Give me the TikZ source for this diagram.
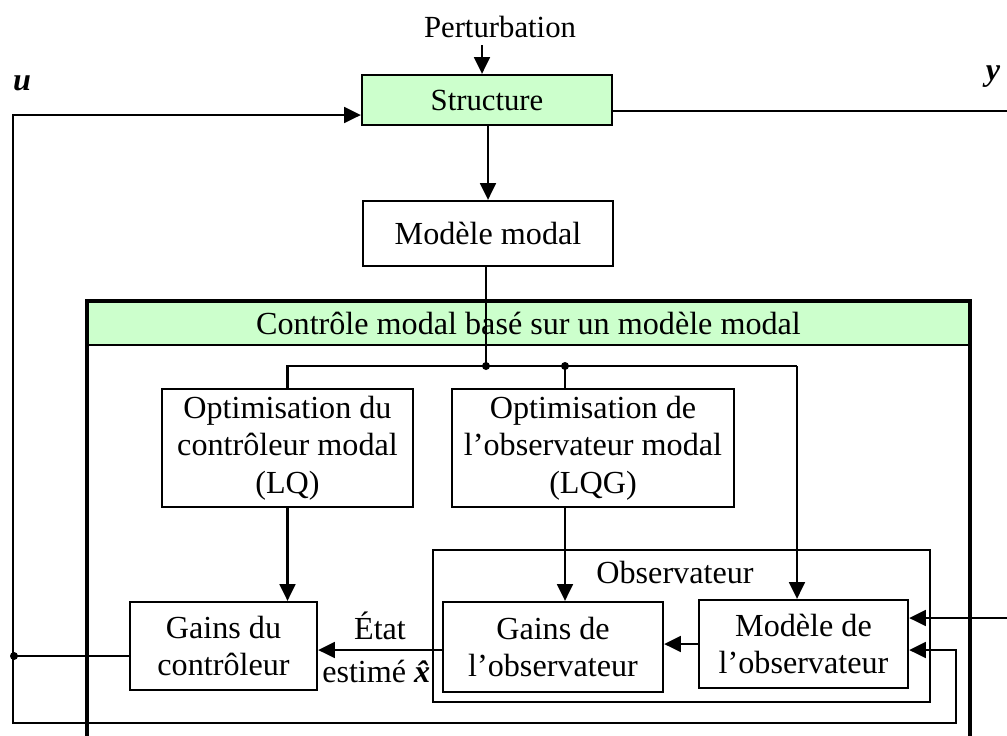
\documentclass[tikz,border=0pt]{standalone}
\usepackage{fontspec}
\setmainfont{Liberation Serif}
\usetikzlibrary{arrows.meta,calc}
\definecolor{vertclair}{HTML}{CCFFCC}
\begin{document}
\begin{tikzpicture}[x=0.02cm,y=-0.02cm,line width=1.3pt,
		every node/.style={font=\fontsize{18.3}{21.3}\selectfont,inner sep=0pt},
		bloc/.style={draw,line width=1.3pt,align=center},
		fl/.style={-{Triangle[length=9.5pt,width=9pt]}}]
		\useasboundingbox (0,0) rectangle (1007,735);
		% blocs
		\node[font=\fontsize{17.5}{21}\selectfont] (pert) at (500,27) {Perturbation};
		\node[bloc,fill=vertclair,minimum width=250*0.02cm,minimum height=50*0.02cm,font=\fontsize{17.5}{21}\selectfont] (struct) at (487,100) {Structure};
		\node[bloc,minimum width=250*0.02cm,minimum height=65*0.02cm] (modele) at (488,233.5) {Mod\`ele modal};
		\node[bloc,fill=vertclair,minimum width=883*0.02cm,minimum height=44*0.02cm] (entete) at (528.5,323) {Contr\^ole modal bas\'e sur un mod\`ele modal};
		\draw[line width=2.4pt] (87,740) -- (87,301) -- (970,301) -- (970,740);
		\node[bloc,minimum width=251*0.02cm,minimum height=118*0.02cm] (optlq) at (287.5,448) {Optimisation du\\contr\^oleur modal\\(LQ)};
		\node[bloc,minimum width=282*0.02cm,minimum height=118*0.02cm] (optlqg) at (593,448) {Optimisation de\\l’observateur modal\\(LQG)};
		\node[bloc,minimum width=497*0.02cm,minimum height=152*0.02cm] (obsbox) at (681.5,626) {};
		\node (obslab) at (675,572) {Observateur};
		\node[bloc,minimum width=187*0.02cm,minimum height=88*0.02cm] (gainsc) at (223.5,646) {Gains du\\contr\^oleur};
		\node[bloc,minimum width=220*0.02cm,minimum height=90*0.02cm] (gainso) at (553,647) {Gains de\\l’observateur};
		\node[bloc,minimum width=209*0.02cm,minimum height=88*0.02cm] (modobs) at (803.5,644) {Mod\`ele de\\l’observateur};
		\node (u) at (22,83) {\textbf{\textit{u}}};
		\node (y) at (993,77) {\textbf{\textit{y}}};
		% liaisons
		\coordinate (pin) at (482,45);
		\coordinate (j1) at (486,366);
		\coordinate (j2) at (565,366);
		\coordinate (jd) at (797,366);
		\coordinate (etat) at ($(gainso.west)+(0,3)$);
		\draw[fl] (pin) -- (pin |- struct.north);
		\draw[fl] (struct.south -| modele) -- (modele.north);
		\draw (modele.south -| j1) -- (j1) -- (jd);
		\draw (j1) -| (optlq.north);
		\draw (j2) -- (j2 |- optlqg.north);
		\draw[fl] (jd) -- (jd |- modobs.north);
		\draw[fl] (optlq.south) -- (optlq.south |- gainsc.north);
		\draw[fl] (j2 |- optlqg.south) -- (j2 |- gainso.north);
		\draw[fl] (modobs.west) -- (modobs.west -| gainso.east);
		\draw[fl] (etat) -- (etat -| gainsc.east) node[midway,above=5pt] {\'Etat} node[midway,below=5pt] {estim\'e \textbf{\textit{\^x}}};
		\draw ($(struct.east)+(0,11)$) -- (1007,111);
		\draw[fl] (1007,618) -- ($(modobs.east)+(0,-26)$);
		\draw[{Triangle[length=9.5pt,width=9pt]}-{Triangle[length=9.5pt,width=9pt]}] ($(struct.west)+(0,15)$) -- (13,115) -- (13,723) -- (956,723) -- (956,650) -- ($(modobs.east)+(0,6)$);
		\draw ($(gainsc.west)+(0,10)$) -- (13,656);
		\foreach \p in {j1,j2} \fill (\p) circle (4);
		\fill (14,656) circle (4);
	\end{tikzpicture}
\end{document}
